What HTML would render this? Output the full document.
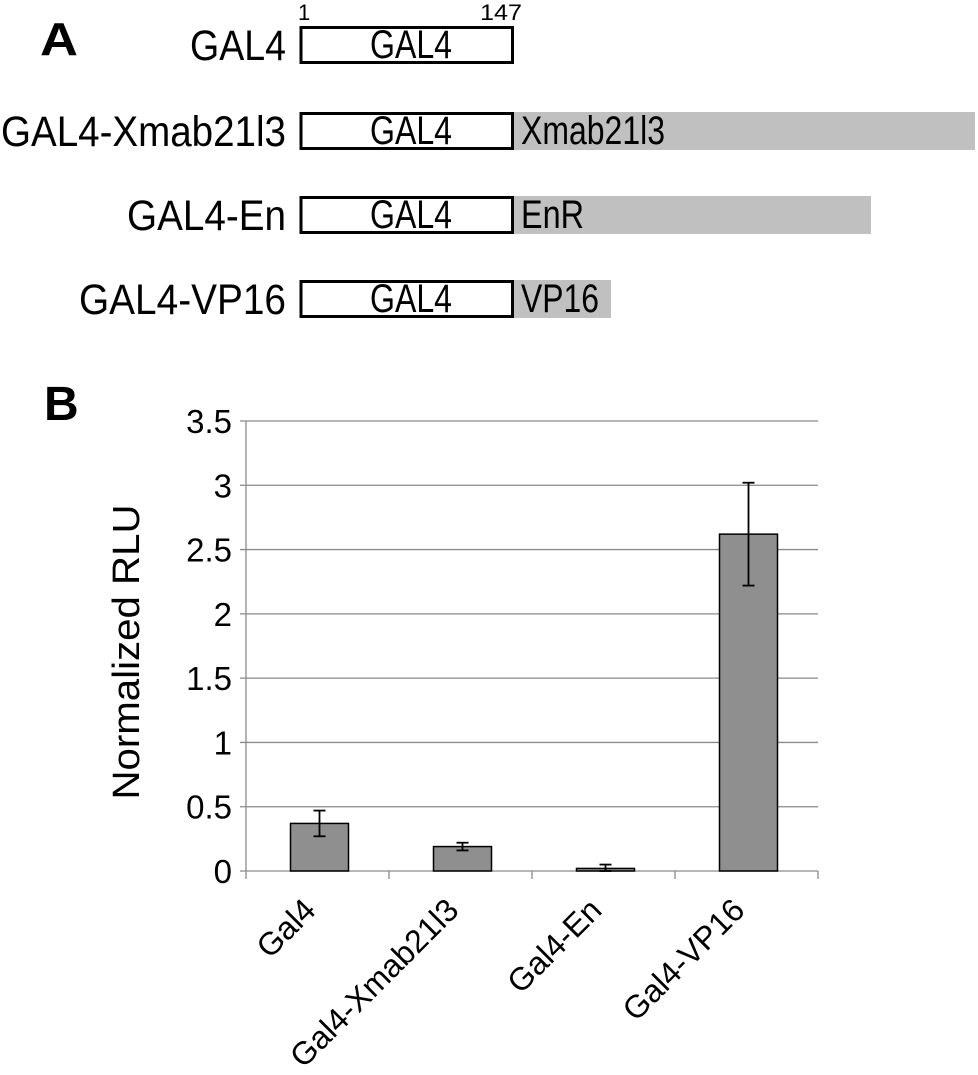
<!DOCTYPE html>
<html><head><meta charset="utf-8"><style>
html,body{margin:0;padding:0;background:#fff;}
svg{display:block;}
.n{font-family:"Liberation Sans",sans-serif;}
.s{font-family:"Liberation Sans",sans-serif;}
</style></head><body>
<svg width="978" height="1075" viewBox="0 0 978 1075">
<g>
<text x="40" y="55" class="s" font-size="46" font-weight="bold" textLength="38" lengthAdjust="spacingAndGlyphs">A</text>
<text x="298" y="20" class="n" font-size="22">1</text>
<text x="480" y="20" class="n" font-size="22" textLength="42" lengthAdjust="spacingAndGlyphs">147</text>
<g id="constructs"></g>
</g>
<g>
<text x="44" y="420" class="s" font-size="48" font-weight="bold">B</text>
<text transform="translate(139,652) rotate(-90)" text-anchor="middle" class="s" font-size="38" textLength="295" lengthAdjust="spacingAndGlyphs">Normalized RLU</text>
<g id="chart"></g>
</g>
</svg>
<script>
// Panel A constructs
const constructNames = ["GAL4","GAL4-Xmab21l3","GAL4-En","GAL4-VP16"];
const nameWidths = [96,285,159,207];
const fusionLabels = ["","Xmab21l3","EnR","VP16"];
const fusionLabelWidths = [0,144,63,78];
const fusionEnds = [513,975,871,611];
const rowTops = [26,112,196,280];

// Panel B data
const categories = ["Gal4","Gal4-Xmab21l3","Gal4-En","Gal4-VP16"];
const values = [0.37,0.19,0.02,2.62];
const errLow = [0.27,0.16,0.00,2.22];
const errHigh = [0.47,0.22,0.05,3.02];
const yTicks = [0,0.5,1,1.5,2,2.5,3,3.5];
const yTickLabels = ["0","0.5","1","1.5","2","2.5","3","3.5"];

const NS="http://www.w3.org/2000/svg";
function mk(tag, attrs, parent, txt){const e=document.createElementNS(NS,tag);for(const k in attrs)e.setAttribute(k,attrs[k]);if(txt!==undefined)e.textContent=txt;parent.appendChild(e);return e;}

const cg=document.getElementById('constructs');
constructNames.forEach((n,i)=>{
  const y=rowTops[i];
  if(fusionLabels[i]){
    const r=mk('rect',{x:513,y:y,width:fusionEnds[i]-513,height:38,fill:'#c0c0c0'},cg);
    
    
    const ft=mk('text',{x:521,y:y+32,'font-size':40,class:'n',textLength:fusionLabelWidths[i],lengthAdjust:'spacingAndGlyphs'},cg,fusionLabels[i]);
    
    
  }
  const b=mk('rect',{x:301,y:y+1.5,width:211.5,height:35,fill:'#fff',stroke:'#000','stroke-width':3},cg);
  
  
  const bt=mk('text',{x:370,y:y+32,'font-size':40,class:'n',textLength:82,lengthAdjust:'spacingAndGlyphs'},cg,'GAL4');
  
  
  const lt=mk('text',{x:286-nameWidths[i],y:y+34,'font-size':43,class:'n',textLength:nameWidths[i],lengthAdjust:'spacingAndGlyphs'},cg,n);
  
  
});

const g=document.getElementById('chart');
const x0=246,x1=818,y0=871,yTop=421,ymax=3.5;
const yS=v=>y0-(v/ymax)*(y0-yTop);
const bw=(x1-x0)/categories.length;
yTicks.forEach((t,i)=>{
  const l=mk('line',{x1:x0-6,x2:x1,y1:yS(t),y2:yS(t),stroke:'#8a8a8a','stroke-width':1.3},g);
  
  
  const tl=mk('text',{x:232,y:yS(t)+12,'font-size':33,class:'s','text-anchor':'end'},g,yTickLabels[i]);
  
  
});
const ya=mk('line',{x1:x0,x2:x0,y1:yTop,y2:y0+8,stroke:'#8a8a8a','stroke-width':1.3},g);


for(let i=1;i<=categories.length;i++){
  const tk=mk('line',{x1:x0+bw*i,x2:x0+bw*i,y1:y0,y2:y0+8,stroke:'#8a8a8a','stroke-width':1.3},g);
  
  
}
categories.forEach((c,i)=>{
  const cx=x0+bw*(i+0.5)+2;
  const bar=mk('rect',{x:cx-29,y:yS(values[i]),width:58,height:y0-yS(values[i]),fill:'#8f8f8f',stroke:'#000','stroke-width':1.5},g);
  
  
  const eg=mk('g',{stroke:'#000','stroke-width':1.8},g);
  
  
  mk('line',{x1:cx,x2:cx,y1:yS(errLow[i]),y2:yS(errHigh[i])},eg);
  mk('line',{x1:cx-6,x2:cx+6,y1:yS(errLow[i]),y2:yS(errLow[i])},eg);
  mk('line',{x1:cx-6,x2:cx+6,y1:yS(errHigh[i]),y2:yS(errHigh[i])},eg);
  const tx=cx-2, ty=912;
  const lab=mk('text',{transform:`translate(${tx},${ty}) rotate(-45)`,'text-anchor':'end','font-size':32,class:'s'},g,c);
  
  
});
</script>
</body></html>
